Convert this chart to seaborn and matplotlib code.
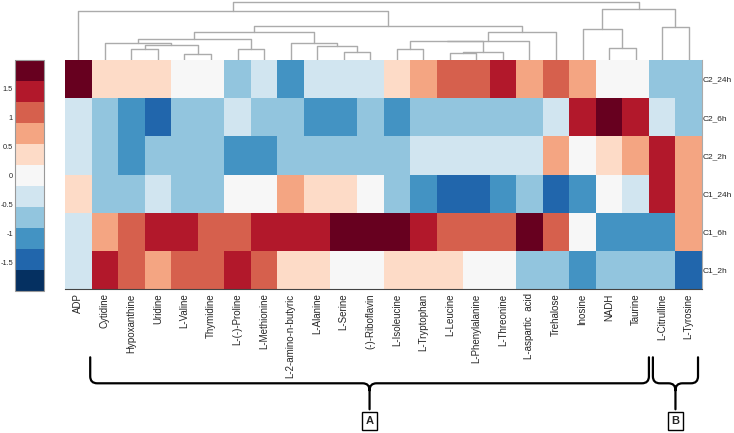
import matplotlib
matplotlib.use("Agg")
import matplotlib.pyplot as plt
import numpy as np
import pandas as pd
import seaborn as sns
from matplotlib.colors import ListedColormap
from matplotlib.path import Path
from matplotlib.patches import PathPatch

# column order as in the clustered heatmap
metabolites = [
    "ADP", "Cytidine", "Hypoxanthine", "Uridine", "L-Valine", "Thymidine",
    "L-(-)-Proline", "L-Methionine", "L-2-amino-n-butyric", "L-Alanine",
    "L-Serine", "(-)-Riboflavin", "L-Isoleucine", "L-Tryptophan", "L-Leucine",
    "L-Phenylalanine", "L-Threonine", "L-aspartic  acid", "Trehalose",
    "Inosine", "NADH", "Taurine", "L-Citrulline", "L-Tyrosine",
]
samples = ["C2_24h", "C2_6h", "C2_2h", "C1_24h", "C1_6h", "C1_2h"]

# z-scores (one list per sample)
c2_24h = [1.8, 0.35, 0.35, 0.35, 0.0, 0.0, -0.7, -0.35, -1.1, -0.35, -0.35, -0.35,
          0.35, 0.7, 1.1, 1.1, 1.45, 0.7, 1.1, 0.7, 0.0, 0.0, -0.7, -0.7]
c2_6h = [-0.35, -0.7, -1.1, -1.45, -0.7, -0.7, -0.35, -0.7, -0.7, -1.1, -1.1, -0.7,
         -1.1, -0.7, -0.7, -0.7, -0.7, -0.7, -0.35, 1.45, 1.8, 1.45, -0.35, -0.7]
c2_2h = [-0.35, -0.7, -1.1, -0.7, -0.7, -0.7, -1.1, -1.1, -0.7, -0.7, -0.7, -0.7,
         -0.7, -0.35, -0.35, -0.35, -0.35, -0.35, 0.7, 0.0, 0.35, 0.7, 1.45, 0.7]
c1_24h = [0.35, -0.7, -0.7, -0.35, -0.7, -0.7, 0.0, 0.0, 0.7, 0.35, 0.35, 0.0,
          -0.7, -1.1, -1.45, -1.45, -1.1, -0.7, -1.45, -1.1, 0.0, -0.35, 1.45, 0.7]
c1_6h = [-0.35, 0.7, 1.1, 1.45, 1.45, 1.1, 1.1, 1.45, 1.45, 1.45, 1.8, 1.8,
         1.8, 1.45, 1.1, 1.1, 1.1, 1.8, 1.1, 0.0, -1.1, -1.1, -1.1, 0.7]
c1_2h = [-0.35, 1.45, 1.1, 0.7, 1.1, 1.1, 1.45, 1.1, 0.35, 0.35, 0.0, 0.0,
         0.35, 0.35, 0.35, 0.0, 0.0, -0.7, -0.7, -1.1, -0.7, -0.7, -0.7, -1.45]

cbar_ticks = [-1.5, -1, -0.5, 0, 0.5, 1, 1.5]
cbar_labels = ["-1.5", "-1", "-0.5", "0", "0.5", "1", "1.5"]

# column dendrogram, scipy style: leaves 0..23, new clusters numbered from 24
merges = [
    (2, 3, 10.7),     # 24
    (4, 5, 5.7),      # 25
    (24, 25, 14.7),   # 26
    (1, 26, 16.7),    # 27
    (6, 7, 11.3),     # 28
    (27, 28, 20.7),   # 29
    (10, 11, 8.3),    # 30
    (9, 30, 13.7),    # 31
    (8, 31, 16.7),    # 32
    (29, 32, 27.7),   # 33
    (12, 13, 10.7),   # 34
    (14, 15, 6.7),    # 35
    (35, 16, 8.3),    # 36
    (34, 36, 18.7),   # 37
    (37, 17, 19.3),   # 38
    (38, 18, 27.7),   # 39
    (33, 39, 33.7),   # 40
    (0, 40, 49.3),    # 41
    (20, 21, 12.3),   # 42
    (19, 42, 30.7),   # 43
    (22, 23, 33.3),   # 44
    (43, 44, 50.7),   # 45
    (41, 45, 58.3),   # 46
]

# cluster groups under the heatmap (span in column units)
groups = [("A", 0.95, 22.0), ("B", 22.15, 23.85)]

rdbu11 = ["#053061", "#2166ac", "#4393c3", "#92c5de", "#d1e5f0", "#f7f7f7",
          "#fddbc7", "#f4a582", "#d6604d", "#b2182b", "#67001f"]


def draw_dendrogram(ax, merges, n_leaves):
    xpos = {i: i + 0.5 for i in range(n_leaves)}
    ypos = {i: 0.0 for i in range(n_leaves)}
    for k, (a, b, h) in enumerate(merges):
        xa, xb = xpos[a], xpos[b]
        ax.plot([xa, xa, xb, xb], [ypos[a], h, h, ypos[b]], color="#ababab", lw=1.0)
        xpos[n_leaves + k] = (xa + xb) / 2
        ypos[n_leaves + k] = h
    ax.set_xlim(0, n_leaves)
    ax.set_ylim(0, 60)
    ax.axis("off")


def draw_brace(fig, ax, x0, x1, label):
    px0 = ax.transData.transform((x0, 0))[0]
    px1 = ax.transData.transform((x1, 0))[0]
    base = ax.bbox.y0
    ytop, yh, ytip = base - 68, base - 94, base - 120
    pm = (px0 + px1) / 2
    r = 7
    verts = [(px0, ytop), (px0, yh + r), (px0, yh), (px0 + r, yh),
             (pm - r, yh), (pm, yh), (pm, yh - r), (pm, ytip),
             (px1, ytop), (px1, yh + r), (px1, yh), (px1 - r, yh),
             (pm + r, yh), (pm, yh), (pm, yh - r)]
    codes = [Path.MOVETO, Path.LINETO, Path.CURVE3, Path.CURVE3,
             Path.LINETO, Path.CURVE3, Path.CURVE3, Path.LINETO,
             Path.MOVETO, Path.LINETO, Path.CURVE3, Path.CURVE3,
             Path.LINETO, Path.CURVE3, Path.CURVE3]
    inv = fig.transFigure.inverted()
    verts = inv.transform(np.array(verts))
    fig.patches.append(PathPatch(Path(verts, codes), transform=fig.transFigure,
                                 fill=False, lw=1.6, ec="black", capstyle="round"))
    tx, ty = inv.transform((pm, base - 132))
    fig.text(tx, ty, label, ha="center", va="center", fontsize=8, fontweight="bold",
             bbox=dict(boxstyle="square,pad=0.35", fc="white", ec="black", lw=1))


sns.set_style("white")
plt.rcParams["font.family"] = ["Liberation Sans", "DejaVu Sans"]

df = pd.DataFrame([c2_24h, c2_6h, c2_2h, c1_24h, c1_6h, c1_2h],
                  index=samples, columns=metabolites)

W, H = 734, 433
fig = plt.figure(figsize=(W / 100, H / 100), dpi=100)
ax_hm = fig.add_axes([65 / W, 1 - 289.3 / H, 637 / W, 229.3 / H])
ax_dg = fig.add_axes([65 / W, 1 - 60 / H, 637 / W, 60 / H])
ax_cb = fig.add_axes([15 / W, 1 - 291 / H, 29.3 / W, 231 / H])

sns.heatmap(df, ax=ax_hm, cmap=ListedColormap(rdbu11), vmin=-2, vmax=2,
            cbar_ax=ax_cb, xticklabels=True, yticklabels=True)

ax_hm.yaxis.tick_right()
ax_hm.set_yticklabels(samples, rotation=0, fontsize=6)
ax_hm.set_xticklabels(metabolites, rotation=90, fontsize=7)
ax_hm.tick_params(axis="both", length=0)
ax_hm.tick_params(axis="x", pad=3)
ax_hm.tick_params(axis="y", pad=0.8)
ax_hm.set_xlabel("")
ax_hm.set_ylabel("")
ax_hm.spines["bottom"].set_visible(True)
ax_hm.spines["bottom"].set_color("#444444")
ax_hm.spines["right"].set_visible(True)
ax_hm.spines["right"].set_color("#aaaaaa")

cbar = ax_hm.collections[0].colorbar
cbar.set_ticks(cbar_ticks)
cbar.set_ticklabels(cbar_labels)
cbar.ax.yaxis.set_ticks_position("right")
cbar.ax.tick_params(labelleft=True, labelright=False, direction="in",
                    length=2, width=0.6, labelsize=5.3, pad=1.5, color="#555555")
cbar.outline.set_edgecolor("#999999")
cbar.outline.set_linewidth(0.8)

draw_dendrogram(ax_dg, merges, len(metabolites))

for label, x0, x1 in groups:
    draw_brace(fig, ax_hm, x0, x1, label)

fig.savefig("out.png", dpi=100)
